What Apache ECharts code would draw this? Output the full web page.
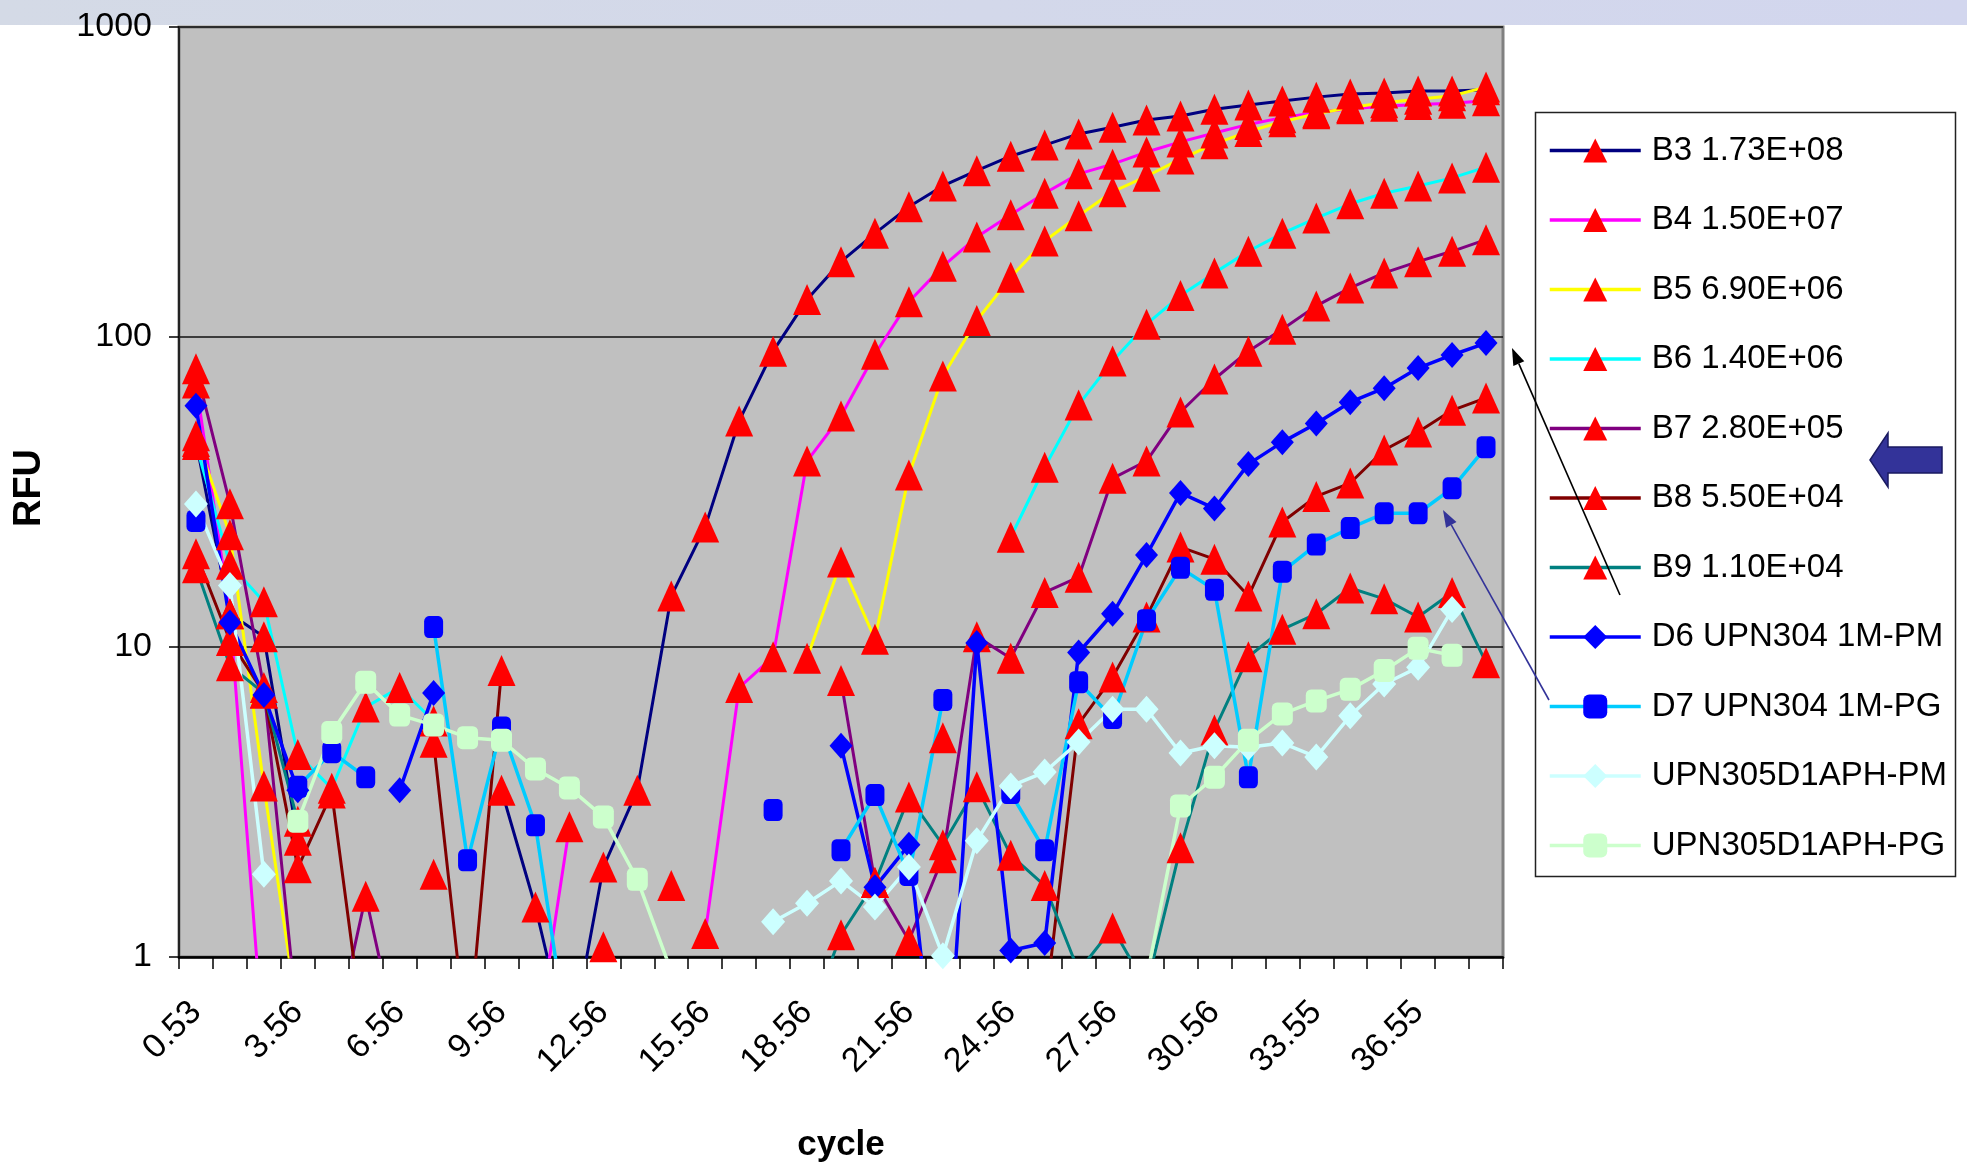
<!DOCTYPE html>
<html><head><meta charset="utf-8">
<script src="https://cdn.jsdelivr.net/npm/echarts@6/dist/echarts.min.js"></script>
<style>html,body{margin:0;padding:0;background:#fff;}#c{width:1967px;height:1168px;}</style>
</head><body><div id="c"></div>
<script>
const categories = ['0.53','1.54','2.55','3.56','4.56','5.56','6.56','7.56','8.56','9.56','10.56','11.56','12.56','13.56','14.56','15.56','16.56','17.56','18.56','19.56','20.56','21.56','22.56','23.56','24.56','25.56','26.56','27.56','28.56','29.56','30.56','31.56','32.56','33.55','34.55','35.55','36.55','37.55','38.55'];
const yTicks = [1, 10, 100, 1000];
const seriesNames = ['B3 1.73E+08','B4 1.50E+07','B5 6.90E+06','B6 1.40E+06','B7 2.80E+05','B8 5.50E+04','B9 1.10E+04','D6 UPN304 1M-PM','D7 UPN304 1M-PG','UPN305D1APH-PM','UPN305D1APH-PG'];

const b3 = [46,12.8,10.8,2.38,null,null,null,null,null,3.45,1.45,0.5,1.95,3.45,14.6,24.4,53.6,90,132,175,216,263,307,344,383,416,452,475,501,516,543,560,577,594,608,612,622,622,628];
const b4 = [71,12.8,0.5,null,null,null,null,null,null,null,0.5,2.63,null,null,null,1.19,7.4,9.3,39.8,55.6,88,130,169,210,248,291,336,361,395,426,455,485,510,530,545,555,562,568,578];
const b5 = [48,23,3.56,0.64,null,null,null,null,null,null,null,null,null,null,null,null,null,null,9.2,18.8,10.6,35.9,74.8,113,156,204,246,294,330,375,420,460,495,525,550,570,585,600,640];
const b6 = [45,18.5,14,4.5,3.5,6.4,7.4,5.77,null,null,null,null,null,null,null,null,null,null,null,null,null,null,5.1,null,22.6,38,60.4,83.7,110,136,161,189,216,242,269,291,307,326,353];
const b7 = [79,29,7.4,0.6,0.5,1.57,0.5,null,null,null,null,null,null,null,null,null,null,null,null,7.8,1.74,1.13,2.09,10.8,9.2,15.0,16.8,35,39.8,57.3,73.2,90,106,126,144,161,175,189,206];
const b8 = [20,10.5,7.1,1.94,3.38,0.5,null,4.93,0.5,8.4,null,null,null,null,null,null,null,null,null,null,null,null,null,null,null,0.66,5.65,8.0,12.5,21.0,19.2,14.6,25.3,30.6,33.8,43.2,49.4,58,63.6];
const b9 = [18,8.7,7.1,2.74,null,null,null,1.85,null,null,null,null,1.08,null,1.7,null,null,null,0.6,1.18,1.74,3.28,2.3,3.54,2.13,1.7,0.9,1.24,0.8,2.25,5.4,9.3,11.4,12.8,15.5,14.3,12.5,15.0,8.9];
const d6 = [60,12.0,7.0,3.45,null,null,3.45,7.1,null,null,null,null,null,null,null,null,null,null,null,4.8,1.68,2.3,0.23,10.3,1.05,1.11,9.6,12.8,19.8,31.4,28.0,38.9,45.8,52.6,61.6,68.4,79.4,87.5,95.6];
const d7 = [25.5,null,null,3.54,4.58,3.8,null,11.6,2.05,5.5,2.66,0.5,null,null,null,null,null,2.98,null,2.21,3.33,1.84,6.75,null,3.38,2.21,7.7,5.9,12.2,18.0,15.3,3.8,17.5,21.4,24.2,27.0,27.0,32.5,44.1];
const pm = [28.9,15.8,1.85,null,null,null,null,null,null,null,null,null,null,null,null,null,null,1.30,1.49,1.76,1.45,1.95,1.01,2.37,3.56,3.95,4.94,6.3,6.3,4.55,4.8,4.75,4.9,4.42,6.0,7.6,8.6,13.2,null];
const pg = [null,null,null,2.74,5.3,7.7,6.03,5.6,5.1,5.0,4.04,3.51,2.83,1.78,0.9,null,null,null,null,null,null,null,null,null,null,null,null,null,0.85,3.07,3.8,5.0,6.08,6.7,7.3,8.4,9.9,9.4,null];

function fontAvailable(name){
  const c=document.createElement('canvas').getContext('2d');
  const s='UPN305D1APH-PM 0123456789';
  c.font='40px monospace'; const a=c.measureText(s).width;
  c.font='40px "'+name+'", monospace'; const b=c.measureText(s).width;
  return Math.abs(a-b)>0.5;
}
const NARROW = fontAvailable('Liberation Sans Narrow');
const FONT = NARROW ? '"Liberation Sans Narrow", "Liberation Sans", Arial, sans-serif' : '"Liberation Sans", Arial, sans-serif';
const FS = NARROW ? 40 : 34;
const LFS = NARROW ? 40 : 33;
const LEG_ITEM_H = 30;
const LEG_STEP = 69.5;

function mk(name, data, lineColor, symbol, symColor, symSize, lw){
  return {name, type:'line', data, symbol, symbolSize:symSize, showSymbol:true, showAllSymbol:true,
    connectNulls:false, clip:true, silent:true, animation:false,
    lineStyle:{color:lineColor, width:lw}, itemStyle:{color:symColor, borderWidth:0},
    emphasis:{disabled:true}};
}
const TRI=[28,31];
const series = [
  mk(seriesNames[0], b3, '#000080','triangle','#FF0000',TRI,3),
  mk(seriesNames[1], b4, '#FF00FF','triangle','#FF0000',TRI,3),
  mk(seriesNames[2], b5, '#FFFF00','triangle','#FF0000',TRI,3),
  mk(seriesNames[3], b6, '#00FFFF','triangle','#FF0000',TRI,3),
  mk(seriesNames[4], b7, '#800080','triangle','#FF0000',TRI,3),
  mk(seriesNames[5], b8, '#800000','triangle','#FF0000',TRI,3),
  mk(seriesNames[6], b9, '#008080','triangle','#FF0000',TRI,3),
  mk(seriesNames[7], d6, '#0000FF','diamond','#0000FF',[23,26],3.5),
  mk(seriesNames[8], d7, '#00CCFF','roundRect','#0000FF',[19,22],3.5),
  mk(seriesNames[9], pm, '#CCFFFF','diamond','#CCFFFF',[24,27],3.5),
  mk(seriesNames[10], pg, '#CCFFCC','roundRect','#CCFFCC',[21,23],3.5)
];

function arrow(x1,y1,x2,y2,color,w){
  const a=Math.atan2(y2-y1,x2-x1), L=17, W=6;
  const bx=x2-L*Math.cos(a), by=y2-L*Math.sin(a);
  return [
    {type:'line', z:20, silent:true, shape:{x1,y1,x2:bx,y2:by}, style:{stroke:color, lineWidth:w}},
    {type:'polygon', z:20, silent:true, shape:{points:[[x2,y2],[bx+W*Math.sin(a),by-W*Math.cos(a)],[bx-W*Math.sin(a),by+W*Math.cos(a)]]}, style:{fill:color}}
  ];
}

const chart = echarts.init(document.getElementById('c'), null, {renderer:'canvas'});
chart.setOption({
  animation:false,
  backgroundColor:'#ffffff',
  grid:{left:179, top:27, width:1324, height:930, show:true, backgroundColor:'#C0C0C0', borderColor:'#808080', borderWidth:3},
  xAxis:{type:'category', data:categories, boundaryGap:true,
    axisLine:{show:true, onZero:false, lineStyle:{color:'#000', width:2.5}},
    axisTick:{show:true, interval:0, length:12, inside:false, lineStyle:{color:'#000', width:1.5}},
    axisLabel:{interval:2, rotate:45, margin:50, color:'#000', fontFamily:FONT, fontSize:FS},
    splitLine:{show:false}},
  yAxis:{type:'log', logBase:10, min:yTicks[0], max:yTicks[yTicks.length-1],
    axisLine:{show:true, lineStyle:{color:'#222', width:2}},
    axisTick:{show:true, length:10, lineStyle:{color:'#000', width:1.5}},
    axisLabel:{margin:27, color:'#000', fontFamily:FONT, fontSize:FS, formatter:(v)=>String(Math.round(v))},
    splitLine:{show:true, lineStyle:{color:'#111', width:1.5}},
    minorTick:{show:false}, minorSplitLine:{show:false}},
  legend:{orient:'vertical', left:1548, top:134, padding:0, itemWidth:91, itemHeight:LEG_ITEM_H,
    itemGap: LEG_STEP - Math.max(LEG_ITEM_H, LFS),
    selectedMode:false, data:seriesNames,
    lineStyle:{width:3.5},
    textStyle:{fontFamily:FONT, fontSize:LFS, color:'#000', padding:[0,0,0,6]}},
  graphic:[
    {type:'rect', z:0, silent:true, shape:{x:0,y:0,width:1967,height:25},
      style:{fill:{type:'linear',x:0,y:0,x2:1,y2:0,colorStops:[{offset:0,color:'#D4DAE6'},{offset:1,color:'#D2D6EE'}]}}},
    {type:'rect', z:1, silent:true, shape:{x:1535.5,y:112.5,width:420,height:764}, style:{fill:'#ffffff', stroke:'#222', lineWidth:1.5}},
    {type:'polygon', z:20, silent:true, shape:{points:[[1870,460],[1888,433],[1888,447],[1942,447],[1942,473],[1888,473],[1888,487]]},
      style:{fill:'#333399', stroke:'#1a1a60', lineWidth:1.5}},
    ...arrow(1620,595,1512,348,'#000000',1.6),
    ...arrow(1549,700,1443,510,'#333399',1.6),
    {type:'text', z:20, silent:true, x:30, y:488, rotation:Math.PI/2,
      style:{text:'RFU', font:'bold 38px "Liberation Sans", Arial, sans-serif', fill:'#000', align:'center', verticalAlign:'middle'}},
    {type:'text', z:20, silent:true, x:841, y:1145,
      style:{text:'cycle', font: NARROW ? 'bold 42px "Liberation Sans Narrow", "Liberation Sans", Arial' : 'bold 35px "Liberation Sans", Arial', fill:'#000', align:'center', verticalAlign:'middle'}}
  ],
  series
});
</script>
</body></html>
